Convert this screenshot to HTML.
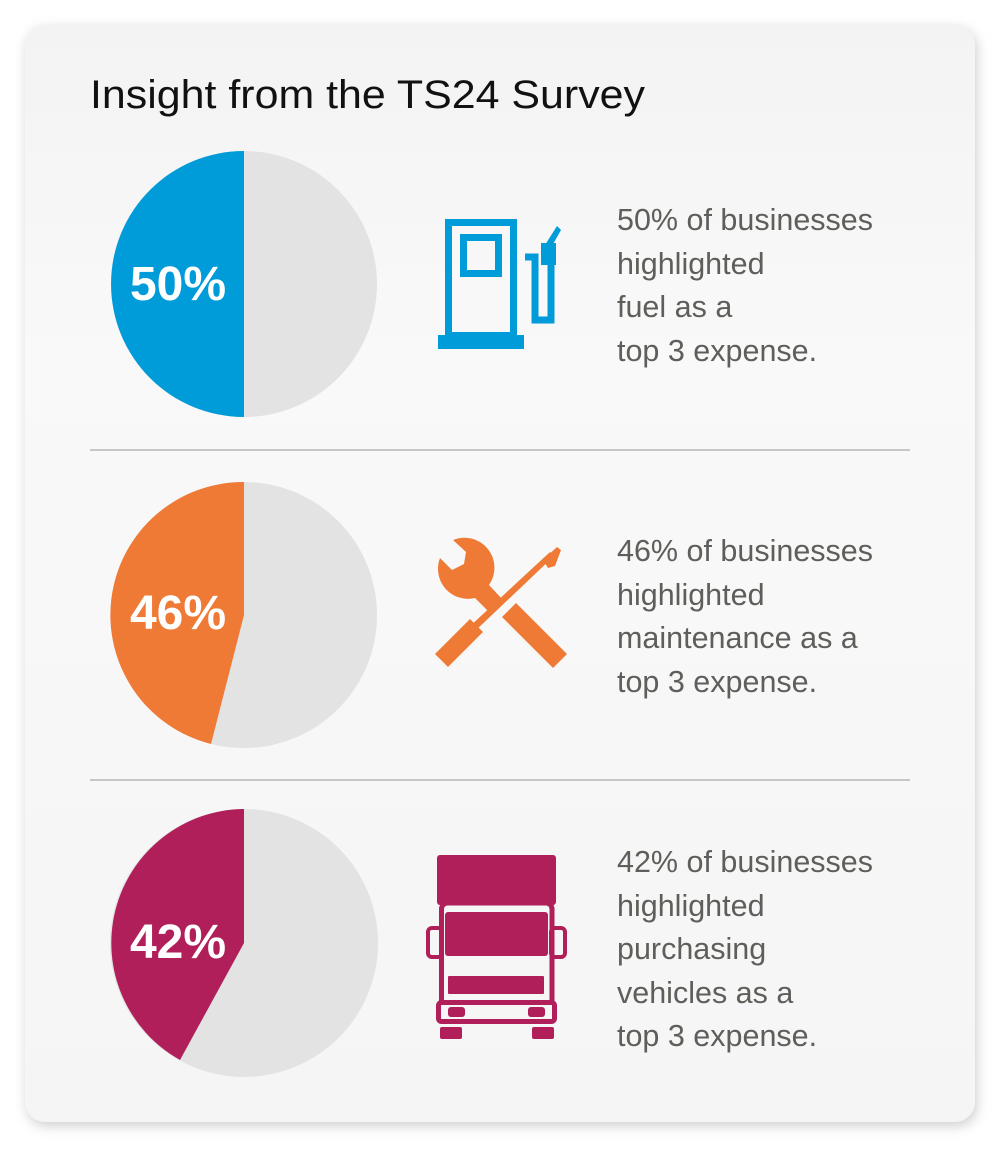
<!DOCTYPE html>
<html><head><style>
html,body{margin:0;padding:0;background:#fff;}
svg{display:block;}
text{font-family:"Liberation Sans",sans-serif;}
</style></head><body>
<svg width="1000" height="1150" viewBox="0 0 1000 1150" xmlns="http://www.w3.org/2000/svg">
<defs>
<linearGradient id="bg" x1="0" y1="0" x2="0" y2="1">
<stop offset="0" stop-color="#f3f3f3"/><stop offset="0.3" stop-color="#f9f9f9"/><stop offset="1" stop-color="#f5f5f5"/>
</linearGradient>
<filter id="sh" x="-10%" y="-10%" width="120%" height="120%"><feGaussianBlur stdDeviation="6"/></filter>
</defs>
<rect x="27" y="29" width="950" height="1097" rx="20" fill="#cfcfcf" filter="url(#sh)"/>
<rect x="25" y="25" width="950" height="1097" rx="20" fill="url(#bg)"/>
<text x="90" y="108" font-size="40" fill="#111" textLength="555" lengthAdjust="spacingAndGlyphs">Insight from the TS24 Survey</text>
<line x1="90" y1="450" x2="910" y2="450" stroke="#b5b5b5" stroke-width="1.5"/>
<line x1="90" y1="780" x2="910" y2="780" stroke="#b5b5b5" stroke-width="1.5"/>

<!-- pie 1 -->
<circle cx="244" cy="284" r="133" fill="#e3e3e3"/>
<path d="M244,284 L244,151 A133,133 0 0 0 244,417 Z" fill="#009cda"/>
<text x="178" y="300" font-size="48" font-weight="bold" fill="#fff" text-anchor="middle">50%</text>
<!-- pie 2 -->
<circle cx="244" cy="615" r="133" fill="#e3e3e3"/>
<path d="M244,615 L244,482 A133,133 0 0 0 211,744 Z" fill="#ef7a35"/>
<text x="178" y="629" font-size="48" font-weight="bold" fill="#fff" text-anchor="middle">46%</text>
<!-- pie 3 -->
<circle cx="244" cy="943" r="134" fill="#e3e3e3"/>
<path d="M244,943 L244,809 A134,134 0 0 0 180,1060 Z" fill="#b01f5a"/>
<text x="178" y="958" font-size="48" font-weight="bold" fill="#fff" text-anchor="middle">42%</text>

<!-- fuel icon -->
<g fill="none" stroke="#009cda" stroke-width="7">
<rect x="448.5" y="222.5" width="65" height="113"/>
<rect x="463.5" y="237.5" width="35" height="36"/>
<polyline points="525,257 535,257 535,320 551,320 551,262"/>
</g>
<g fill="#009cda">
<rect x="438" y="335" width="86" height="14"/>
<rect x="541" y="243" width="15" height="22"/>
<polygon points="545,245 557,226 561,230 552,246"/>
</g>

<!-- tools icon -->
<g fill="#ef7a35">
<path d="M440,558 L452,570 L464,564 L466,552 L453,540 A30,30 0 0 1 489,585 L503,600 L490,613 L475,598 A30,30 0 0 1 440,558 Z"/>
<polygon points="502,617 516,603 567,654 553,668"/>
<polygon points="435,654 470,619 483,632 448,667"/>
<polygon points="468,628 550,552 554,556 474,632"/>
<polygon points="543,560 557,547 561,550 555,566 548,568"/>
</g>

<!-- truck icon -->
<g fill="#b01f5a">
<rect x="437" y="855" width="119" height="50" rx="3"/>
<rect x="445" y="912" width="103" height="44" rx="3"/>
<rect x="448" y="976" width="96" height="18" rx="1"/>
<rect x="448" y="1007" width="17" height="10" rx="3"/>
<rect x="528" y="1007" width="17" height="10" rx="3"/>
<rect x="440" y="1027" width="22" height="12" rx="2"/>
<rect x="532" y="1027" width="22" height="12" rx="2"/>
</g>
<g fill="none" stroke="#b01f5a" stroke-width="5">
<path d="M441.5,1001 V909 a6,6 0 0 1 6,-6 H546 a6,6 0 0 1 6,6 V1001"/>
<rect x="438.5" y="1002.5" width="116" height="19" rx="3"/>
</g>
<g fill="none" stroke="#b01f5a" stroke-width="4">
<rect x="428" y="928" width="14" height="29" rx="4"/>
<rect x="551" y="928" width="14" height="29" rx="4"/>
</g>

<!-- texts -->
<g font-size="30.5" fill="#5e5e5a">
<text x="617" y="230">50% of businesses</text>
<text x="617" y="274">highlighted</text>
<text x="617" y="317">fuel as a</text>
<text x="617" y="361">top 3 expense.</text>

<text x="617" y="561">46% of businesses</text>
<text x="617" y="605">highlighted</text>
<text x="617" y="648">maintenance as a</text>
<text x="617" y="692">top 3 expense.</text>

<text x="617" y="872">42% of businesses</text>
<text x="617" y="916">highlighted</text>
<text x="617" y="959">purchasing</text>
<text x="617" y="1003">vehicles as a</text>
<text x="617" y="1046">top 3 expense.</text>
</g>
</svg>
</body></html>
